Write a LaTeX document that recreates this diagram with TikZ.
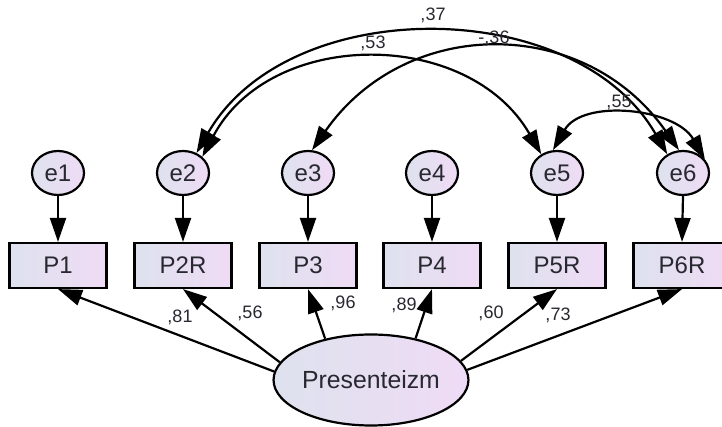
\documentclass[tikz,border=0pt]{standalone}
\usepackage{fontspec}
\setmainfont{Liberation Sans}
\usetikzlibrary{shapes.geometric,arrows.meta}
\definecolor{shadeleft}{RGB}{222,226,238}
\definecolor{shaderight}{RGB}{239,219,245}
\definecolor{inktext}{RGB}{40,40,48}

\begin{document}
\begin{tikzpicture}[
  x=0.5pt, y=0.5pt,
  >={Triangle[length=12pt, width=8pt]},
  obs/.style={rectangle, draw=black, line width=1.1pt, left color=shadeleft, right color=shaderight,
              minimum width=48.5pt, minimum height=22.5pt, inner sep=0pt, text=inktext,
              font=\fontsize{12}{14}\selectfont},
  err/.style={ellipse, draw=black, line width=1.1pt, left color=shadeleft, right color=shaderight,
              minimum width=26pt, minimum height=22pt, inner sep=0pt, text=inktext,
              font=\fontsize{12}{14}\selectfont},
  lat/.style={ellipse, draw=black, line width=1.1pt, left color=shadeleft, right color=shaderight,
              minimum width=96pt, minimum height=45.5pt, inner sep=0pt, text=inktext,
              font=\fontsize{12.4}{14}\selectfont},
  coef/.style={font=\fontsize{9}{10}\selectfont, text=inktext, inner sep=1pt},
  load/.style={->, line width=1.1pt},
  cov/.style={<->, line width=1.1pt},
]
\fill[white] (0,0) rectangle (722,427);
\useasboundingbox (0,0) rectangle (722,427);

% --- error terms ---
\node[err] (e1) at (58,254)  {e1};
\node[err] (e2) at (183,254) {e2};
\node[err] (e3) at (308,254) {e3};
\node[err] (e4) at (432,254) {e4};
\node[err] (e5) at (557,254) {e5};
\node[err] (e6) at (683,254) {e6};

% --- observed items ---
\node[obs] (p1)  at (58,161.5)  {P1};
\node[obs] (p2r) at (183,161.5) {P2R};
\node[obs] (p3)  at (308,161.5) {P3};
\node[obs] (p4)  at (432,161.5) {P4};
\node[obs] (p5r) at (557,161.5) {P5R};
\node[obs] (p6r) at (682,161.5) {P6R};

% --- latent factor ---
\node[lat] (pres) at (371,47) {Presenteizm};

% --- errors to items ---
\draw[load] (e1.south) -- (p1.north);
\draw[load] (e2.south) -- (p2r.north);
\draw[load] (e3.south) -- (p3.north);
\draw[load] (e4.south) -- (p4.north);
\draw[load] (e5.south) -- (p5r.north);
\draw[load] (e6.south) -- (p6r.north);

% --- factor loadings ---
\draw[load] (pres.175) -- (p1.south);
\draw[load] (pres.169) -- (p2r.south);
\draw[load] (pres.138) -- (p3.south);
\draw[load] (pres.43)  -- (p4.south);
\draw[load] (pres.12)  -- (p5r.south);
\draw[load] (pres.6)   -- (p6r.south);

\node[coef] (l81) at (180,110) {,81};
\node[coef] (l56) at (250,114) {,56};
\node[coef] (l96) at (343,124) {,96};
\node[coef] (l89) at (404,122) {,89};
\node[coef] (l60) at (491,114) {,60};
\node[coef] (l73) at (558,112) {,73};

% --- error covariances ---
\draw[cov] (e2.56) to[out=60, in=120] (e6.130);
\draw[cov] (e2.40) to[out=62, in=120, looseness=1.1] (e5.130);
\draw[cov] (e3.80) to[out=55, in=125, looseness=1.15] (e6.100);
\draw[cov] (e5.100) to[out=60, in=120] (e6.32);

\node[coef] (c37) at (433,412) {,37};
\node[coef] (c53) at (373,384) {,53};
\node[coef] (c36) at (494,389) {-,36};
\node[coef] (c55) at (619,325) {,55};

\end{tikzpicture}
\end{document}
